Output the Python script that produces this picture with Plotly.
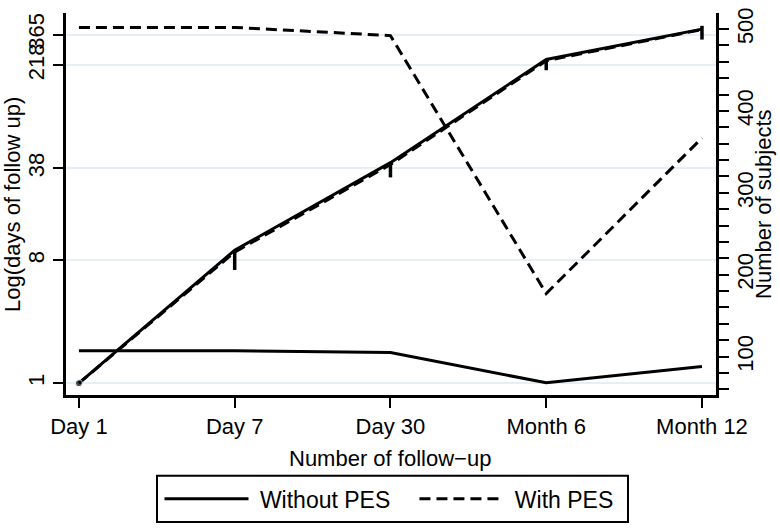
import plotly.graph_objects as go

# ---- data ----
visits = ["Day 1", "Day 7", "Day 30", "Month 6", "Month 12"]

# log(days of follow-up) lines (left axis, plotted in days on log scale)
days_without = [1, 9.5, 41.8, 240, 401]
days_with = [1, 9.2, 40.5, 235, 398]
spike_low = [1, 6.8, 32.6, 200, 336]
spike_high = [1, 9.5, 41.8, 240, 424]

# number of subjects (right axis)
n_without = [107, 107, 105, 68, 88]
n_with = [502, 502, 492, 177, 367]

left_ticks = [1, 8, 38, 218, 365]
right_ticks = [100, 200, 300, 400, 500]

FONT = "Liberation Sans, Arial, Helvetica, sans-serif"
TICK_FS = 22
TITLE_FS = 22
LEG_FS = 23
NB = "\u00a0"

fig = go.Figure()

# subjects lines
fig.add_trace(go.Scatter(x=visits, y=n_without, yaxis="y2", mode="lines",
                         line=dict(color="black", width=3),
                         name=NB + "Without PES" + NB * 3,
                         legendgroup="a", showlegend=True))
fig.add_trace(go.Scatter(x=visits, y=n_with, yaxis="y2", mode="lines",
                         line=dict(color="black", width=3, dash="11px,6px"),
                         name=NB + "With PES" + NB, legendgroup="b", showlegend=True))

# log days lines
fig.add_trace(go.Scatter(x=visits, y=days_with, mode="lines",
                         line=dict(color="black", width=3, dash="11px,6px"),
                         name="With PES", legendgroup="b", showlegend=False))
fig.add_trace(go.Scatter(
    x=visits, y=days_without, mode="lines+markers",
    line=dict(color="black", width=3),
    marker=dict(color="black", size=[7, 0, 0, 0, 0]),
    error_y=dict(type="data", symmetric=False,
                 array=[h - v for h, v in zip(spike_high, days_without)],
                 arrayminus=[v - l for v, l in zip(days_without, spike_low)],
                 width=0, thickness=3.5, color="black"),
    name="Without PES", legendgroup="a", showlegend=False))

axis_common = dict(showline=True, linecolor="black", linewidth=2.5, ticks="outside",
                   ticklen=10, tickwidth=2, tickcolor="black", zeroline=False,
                   automargin=False, ticklabeloverflow="allow",
                   tickfont=dict(family=FONT, size=TICK_FS))

fig.update_layout(
    width=780, height=532,
    paper_bgcolor="white", plot_bgcolor="white",
    margin=dict(l=66, r=64, t=13, b=131),
    font=dict(family=FONT, size=TICK_FS, color="black"),
    xaxis=dict(type="category", range=[-0.083, 4.09], showgrid=False, **axis_common),
    yaxis=dict(type="log", range=[-0.0869, 2.7217], tickvals=left_ticks,
               ticktext=[str(t) for t in left_ticks], tickangle=-90,
               showgrid=True, gridcolor="#e6eff3", gridwidth=2, **axis_common),
    yaxis2=dict(overlaying="y", side="right", range=[53.1, 519.6],
                tickvals=right_ticks, tickangle=-90, ticklabelstandoff=-2,
                minor=dict(dtick=20, tick0=0, ticks="outside", ticklen=10, tickwidth=2,
                           tickcolor="black", showgrid=False),
                showgrid=False, **axis_common),
    legend=dict(orientation="h", x=0.5023, xanchor="center", y=-0.2719, yanchor="middle",
                borderwidth=0, bgcolor="rgba(0,0,0,0)", itemwidth=84,
                font=dict(family=FONT, size=LEG_FS), traceorder="normal"),
    shapes=[dict(type="rect", xref="paper", yref="paper", x0=0.14, x1=0.8646,
                 y0=-0.3325, y1=-0.2113, line=dict(color="black", width=2),
                 fillcolor="rgba(0,0,0,0)")],
    annotations=[
        dict(text="Number of follow−up", xref="paper", yref="paper", x=0.4985, y=-0.1675,
             xanchor="center", yanchor="middle", showarrow=False,
             font=dict(family=FONT, size=TITLE_FS)),
        dict(text="Log(days of follow up)", xref="paper", yref="paper", x=-0.0831, y=0.5,
             xanchor="center", yanchor="middle", textangle=-90, showarrow=False,
             font=dict(family=FONT, size=TITLE_FS)),
        dict(text="Number of subjects", xref="paper", yref="paper", x=1.0723, y=0.5,
             xanchor="center", yanchor="middle", textangle=-90, showarrow=False,
             font=dict(family=FONT, size=TITLE_FS)),
    ],
)

fig.write_html("out.html", config={"displayModeBar": False},
               post_script="document.body.style.margin='0';document.body.style.padding='0';")
